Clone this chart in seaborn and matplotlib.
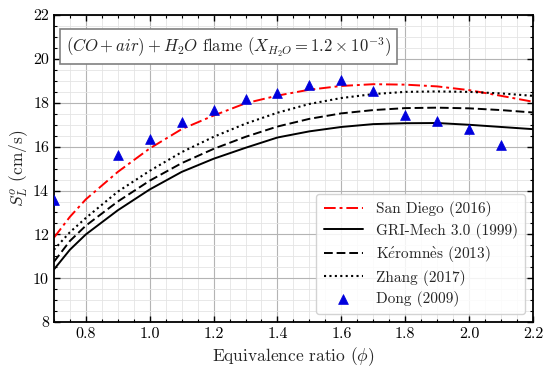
import matplotlib
matplotlib.use("Agg")
import matplotlib.pyplot as plt
import seaborn as sns
import pandas as pd
from matplotlib.ticker import MultipleLocator

# ------------------------- data ------------------------- #
phi = [0.7, 0.75, 0.8, 0.9, 1.0, 1.1, 1.2, 1.3, 1.4, 1.5, 1.6, 1.7, 1.8, 1.9, 2.0, 2.1, 2.2]
san_diego = [11.85, 12.8, 13.6, 14.85, 15.92, 16.8, 17.42, 17.98, 18.33, 18.6, 18.77, 18.85, 18.83, 18.75, 18.58, 18.32, 18.05]
gri_mech = [10.4, 11.3, 12.0, 13.1, 14.05, 14.85, 15.45, 15.95, 16.42, 16.7, 16.9, 17.03, 17.07, 17.08, 17.0, 16.9, 16.8]
keromnes = [10.75, 11.7, 12.4, 13.5, 14.45, 15.25, 15.9, 16.45, 16.92, 17.27, 17.52, 17.67, 17.76, 17.78, 17.75, 17.67, 17.56]
zhang = [11.3, 12.1, 12.75, 13.95, 14.9, 15.75, 16.45, 17.05, 17.55, 17.95, 18.22, 18.4, 18.5, 18.52, 18.5, 18.43, 18.32]

dong_phi = [0.7, 0.9, 1.0, 1.1, 1.2, 1.3, 1.4, 1.5, 1.6, 1.7, 1.8, 1.9, 2.0, 2.1]
dong = [13.55, 15.6, 16.35, 17.12, 17.68, 18.17, 18.47, 18.8, 19.03, 18.53, 17.45, 17.15, 16.8, 16.1]

labels = ["San Diego (2016)", "GRI-Mech 3.0 (1999)",
          r"K$\acute{e}$romn$\mathrm{\grave{e}}$s (2013)", "Zhang (2017)", "Dong (2009)"]

# ------------------------- style ------------------------- #
sns.set_theme(style="ticks")
plt.rcParams["font.family"] = ["cmr10", "DejaVu Serif"]
plt.rcParams["mathtext.fontset"] = "cm"
plt.rcParams["axes.formatter.use_mathtext"] = True
plt.rcParams["axes.unicode_minus"] = False

fig = plt.figure(figsize=(5.5, 3.69), dpi=100)
ax = fig.add_axes([0.098, 0.127, 0.871, 0.832])

models = pd.DataFrame({"phi": phi, "sd": san_diego, "gri": gri_mech,
                       "ker": keromnes, "zh": zhang})

sns.lineplot(data=models, x="phi", y="sd", ax=ax, color="red", lw=1.4,
             label=labels[0]).lines[-1].set_dashes([6, 2, 1.5, 2])
sns.lineplot(data=models, x="phi", y="gri", ax=ax, color="black", lw=1.4, label=labels[1])
l3 = sns.lineplot(data=models, x="phi", y="ker", ax=ax, color="black", lw=1.4, label=labels[2]).lines[-1]
l3.set_dashes([4.5, 2])
l4 = sns.lineplot(data=models, x="phi", y="zh", ax=ax, color="black", lw=1.5, label=labels[3]).lines[-1]
l4.set_dashes([1, 1.6])
sns.scatterplot(x=dong_phi, y=dong, ax=ax, marker="^", color="#0000dd", s=50,
                edgecolor="#0000dd", linewidth=0.5, label=labels[4], zorder=5)

ax.set_xlim(0.7, 2.2)
ax.set_ylim(8, 22)
ax.xaxis.set_major_locator(MultipleLocator(0.2))
ax.xaxis.set_minor_locator(MultipleLocator(0.05))
ax.yaxis.set_major_locator(MultipleLocator(2))
ax.yaxis.set_minor_locator(MultipleLocator(0.5))
ax.xaxis.set_major_formatter(lambda v, pos: f"{v:.1f}")
ax.yaxis.set_major_formatter(lambda v, pos: f"{v:.0f}")

ax.grid(which="major", color="#b4b4b4", lw=0.8)
ax.grid(which="minor", color="#e4e4e4", lw=0.6)
ax.set_axisbelow(True)

ax.tick_params(which="both", direction="in", top=True, right=True, colors="black",
               labelsize=11.5)
ax.tick_params(which="major", length=4, width=1)
ax.tick_params(which="minor", length=2, width=0.8)
for s in ax.spines.values():
    s.set_color("black")
    s.set_linewidth(1.3)

ax.set_xlabel(r"Equivalence ratio ($\phi$)", fontsize=12.5, labelpad=3)
ax.set_ylabel(r"$S_L^o$ (cm/s)", fontsize=12.5, labelpad=2)

ax.text(0.025, 0.935, r"$(CO+air)+H_2O$ flame $(X_{H_2O}=1.2\times10^{-3})$",
        transform=ax.transAxes, fontsize=12, va="top", ha="left",
        bbox=dict(boxstyle="square,pad=0.35", fc="white", ec="#808080", lw=1.2))

leg = ax.legend(loc="lower right", fontsize=11, frameon=True, fancybox=True,
                framealpha=0.85, edgecolor="#cccccc", handlelength=2.6,
                labelspacing=0.35, borderpad=0.5, borderaxespad=0.5)

fig.savefig("out.png", dpi=100)
